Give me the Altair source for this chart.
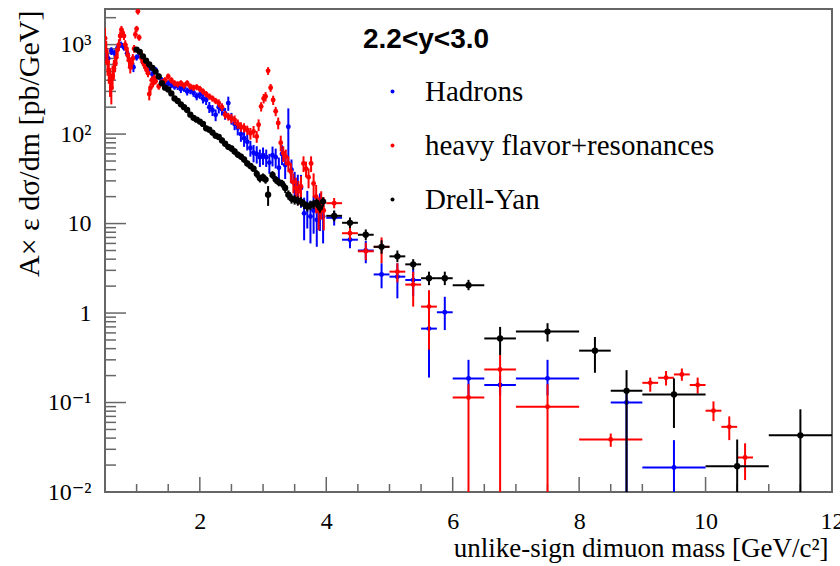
import altair as alt
import pandas as pd

SERIF = "Liberation Serif, DejaVu Serif, serif"
SANS = "Liberation Sans, Arial, sans-serif"

SERIES = ["Hadrons", "heavy flavor+resonances", "Drell-Yan"]
COLORS = ["#0000ff", "#ff0000", "#000000"]

# ---------------- Hadrons (blue) : fine bins ----------------
had_m = [0.50, 0.55, 0.60, 0.65, 0.70, 0.75, 0.80, 0.85, 0.90, 0.95,
         1.00, 1.05, 1.10, 1.15, 1.20, 1.25, 1.30, 1.35, 1.40, 1.45,
         1.50, 1.55, 1.60, 1.65, 1.70, 1.75, 1.80, 1.85, 1.90, 1.95,
         2.00, 2.05, 2.10, 2.15, 2.20, 2.25, 2.30, 2.35, 2.40, 2.45,
         2.50, 2.55, 2.60, 2.65, 2.70, 2.75, 2.80, 2.85, 2.90, 2.95,
         3.00, 3.05, 3.10, 3.15, 3.20, 3.25, 3.30, 3.35, 3.40, 3.45,
         3.50, 3.55, 3.60, 3.65, 3.70, 3.75, 3.80, 3.85, 3.90, 3.95]
had_v = [740, 700, 850, 800, 920, 1000, 930, 800, 650, 560,
         720, 760, 640, 560, 530, 470, 520, 440, 400, 380,
         370, 355, 340, 345, 320, 330, 300, 310, 290, 265,
         275, 250, 240, 200, 185, 164, 200, 190, 170, 222,
         150, 130, 118, 100, 90, 82, 70, 62, 60, 55,
         58, 55, 48, 58, 55, 42, 60, 45, 121, 40,
         28, 26, 25, 13, 16, 12, 14, 11, 15, 12]
had_err = [0.12, 0.12, 0.10, 0.10, 0.10, 0.08, 0.08, 0.10, 0.10, 0.12,
           0.08, 0.08, 0.08, 0.08, 0.08, 0.08, 0.08, 0.08, 0.08, 0.08,
           0.08, 0.08, 0.08, 0.10, 0.10, 0.10, 0.10, 0.10, 0.10, 0.10,
           0.10, 0.12, 0.12, 0.14, 0.14, 0.15, 0.15, 0.15, 0.15, 0.18,
           0.15, 0.15, 0.18, 0.18, 0.20, 0.20, 0.20, 0.22, 0.22, 0.22,
           0.22, 0.22, 0.25, 0.25, 0.25, 0.30, 0.25, 0.30, 0.60, 0.30,
           0.35, 0.35, 0.40, 0.50, 0.45, 0.50, 0.45, 0.50, 0.45, 0.50]
# Hadrons : wide bins
had_hm_m = [4.125, 4.375, 4.625, 4.875, 5.125, 5.375, 5.625, 5.875, 6.25, 6.75, 7.5, 8.75, 9.5]
had_hm_hw = [0.125, 0.125, 0.125, 0.125, 0.125, 0.125, 0.125, 0.125, 0.25, 0.25, 0.5, 0.25, 0.5]
had_hm_v = [11.6, 6.6, 5.0, 2.7, 2.55, 2.34, 0.67, 1.02, 0.186, 0.157, 0.186, 0.10, 0.0188]
had_hm_lo = [9.5, 5.3, 3.6, 1.89, 1.46, 1.55, 0.19, 0.645, 0.12, 0.12, 0.12, 0.005, 0.005]
had_hm_hi = [13.8, 8.0, 6.4, 3.6, 3.6, 3.1, 1.1, 1.52, 0.30, 0.20, 0.30, 0.14, 0.038]

# ---------------- heavy flavor + resonances (red) : fine bins ----------------
hf_m = [0.50, 0.52, 0.54, 0.56, 0.58, 0.60, 0.62, 0.64, 0.66, 0.68,
        0.70, 0.72, 0.74, 0.76, 0.78, 0.80, 0.82, 0.84, 0.86, 0.88,
        0.90, 0.92, 0.94, 0.96, 0.98, 1.00, 1.02, 1.04, 1.06, 1.08,
        1.10, 1.12, 1.14, 1.16, 1.18, 1.20, 1.22, 1.24, 1.26, 1.28,
        1.30, 1.35, 1.40, 1.45, 1.50, 1.55, 1.60, 1.65, 1.70, 1.75,
        1.80, 1.85, 1.90, 1.95, 2.00, 2.05, 2.10, 2.15, 2.20, 2.25,
        2.30, 2.35, 2.40, 2.45, 2.50, 2.55, 2.60, 2.65, 2.70, 2.75,
        2.80, 2.85, 2.90, 2.93, 2.97, 3.01, 3.04, 3.08, 3.12, 3.16,
        3.20, 3.24, 3.28, 3.32, 3.36, 3.40, 3.44, 3.48, 3.52, 3.56,
        3.60, 3.64, 3.68, 3.72, 3.76, 3.80, 3.84, 3.88, 3.92, 3.96]
hf_v = [1180, 850, 640, 520, 400, 330, 450, 540, 620, 720,
        880, 1000, 1250, 1470, 1350, 1250, 1000, 900, 760, 670,
        560, 620, 700, 900, 1300, 1500, 2350, 1200, 800, 700,
        640, 600, 560, 520, 480, 280, 330, 400, 370, 420,
        390, 340, 380, 400, 440, 400, 370, 360, 370, 350,
        370, 340, 330, 335, 320, 300, 280, 263, 250, 235,
        222, 200, 165, 157, 150, 144, 130, 121, 118, 111,
        102, 107, 94, 127, 203, 250, 263, 509, 330, 240,
        180, 133, 80, 61, 56, 47, 38, 29, 25, 23,
        26, 47, 41, 33, 47, 28, 20, 14, 17, 14]
hf_err = [0.30, 0.30, 0.30, 0.30, 0.35, 0.35, 0.30, 0.25, 0.20, 0.20,
          0.15, 0.15, 0.12, 0.10, 0.10, 0.10, 0.12, 0.12, 0.15, 0.15,
          0.15, 0.15, 0.12, 0.10, 0.10, 0.08, 0.08, 0.08, 0.10, 0.10,
          0.10, 0.10, 0.10, 0.10, 0.10, 0.15, 0.12, 0.10, 0.10, 0.10,
          0.08, 0.08, 0.08, 0.08, 0.08, 0.08, 0.08, 0.08, 0.08, 0.08,
          0.08, 0.08, 0.08, 0.08, 0.08, 0.08, 0.08, 0.08, 0.08, 0.08,
          0.10, 0.10, 0.10, 0.10, 0.12, 0.12, 0.12, 0.12, 0.12, 0.12,
          0.15, 0.15, 0.15, 0.15, 0.12, 0.12, 0.12, 0.10, 0.10, 0.12,
          0.12, 0.15, 0.20, 0.20, 0.20, 0.20, 0.25, 0.25, 0.30, 0.30,
          0.30, 0.20, 0.20, 0.25, 0.20, 0.30, 0.35, 0.40, 0.35, 0.40]
# heavy flavor : wide bins
hf_hm_m = [4.125, 4.375, 4.625, 4.875, 5.125, 5.375, 5.625, 6.25, 6.75, 7.5, 8.5,
           9.125, 9.375, 9.625, 9.875, 10.125, 10.375, 10.625]
hf_hm_hw = [0.125, 0.125, 0.125, 0.125, 0.125, 0.125, 0.125, 0.25, 0.25, 0.5, 0.5,
            0.125, 0.125, 0.125, 0.125, 0.125, 0.125, 0.125]
hf_hm_v = [16.9, 7.8, 4.9, 5.5, 2.9, 2.08, 1.18, 0.114, 0.234, 0.0896, 0.0386,
           0.166, 0.189, 0.206, 0.157, 0.081, 0.0535, 0.0243]
hf_hm_lo = [14.8, 6.6, 3.9, 3.6, 2.2, 1.18, 0.39, 0.005, 0.005, 0.005, 0.032,
            0.132, 0.155, 0.175, 0.126, 0.062, 0.038, 0.0136]
hf_hm_hi = [19.3, 9.2, 6.1, 7.0, 3.6, 2.9, 1.8, 0.16, 0.34, 0.16, 0.045,
            0.19, 0.225, 0.24, 0.19, 0.103, 0.07, 0.035]

# ---------------- Drell-Yan (black) : fine bins ----------------
dy_m = [1.00, 1.05, 1.10, 1.15, 1.20, 1.25, 1.30, 1.35, 1.40, 1.45,
        1.50, 1.55, 1.60, 1.65, 1.70, 1.75, 1.80, 1.85, 1.90, 1.95,
        2.00, 2.05, 2.10, 2.15, 2.20, 2.25, 2.30, 2.35, 2.40, 2.45,
        2.50, 2.55, 2.60, 2.65, 2.70, 2.75, 2.80, 2.85, 2.90, 2.95,
        3.00, 3.04, 3.08, 3.15, 3.20, 3.25, 3.30, 3.35, 3.40, 3.45,
        3.50, 3.55, 3.60, 3.65, 3.70, 3.75, 3.80, 3.85, 3.90, 3.95]
dy_v = [880, 830, 740, 660, 600, 550, 500, 440, 370, 330,
        315, 285, 250, 235, 215, 200, 186, 165, 152, 145,
        138, 130, 116, 112, 104, 96, 93, 85, 78, 72,
        69, 64, 59, 56, 52, 47, 44, 41, 36, 32,
        33, 31, 21, 35, 31, 29, 28, 25, 21, 19,
        18.5, 18, 17.6, 16.5, 15.5, 16, 16.5, 17, 15, 17.6]
dy_err = [0.05, 0.05, 0.05, 0.05, 0.05, 0.05, 0.05, 0.05, 0.05, 0.05,
          0.05, 0.05, 0.05, 0.05, 0.05, 0.05, 0.05, 0.05, 0.05, 0.05,
          0.07, 0.07, 0.07, 0.07, 0.07, 0.07, 0.07, 0.07, 0.07, 0.07,
          0.08, 0.08, 0.08, 0.08, 0.08, 0.08, 0.08, 0.08, 0.10, 0.10,
          0.10, 0.10, 0.25, 0.10, 0.10, 0.10, 0.10, 0.12, 0.12, 0.12,
          0.12, 0.12, 0.12, 0.12, 0.12, 0.12, 0.12, 0.12, 0.12, 0.12]
# Drell-Yan : wide bins
dy_hm_m = [4.125, 4.375, 4.625, 4.875, 5.125, 5.375, 5.625, 5.875, 6.25, 6.75, 7.5, 8.25,
           8.75, 9.5, 10.5, 11.5]
dy_hm_hw = [0.125, 0.125, 0.125, 0.125, 0.125, 0.125, 0.125, 0.125, 0.25, 0.25, 0.5, 0.25,
            0.25, 0.5, 0.5, 0.5]
dy_hm_v = [12.2, 10.2, 7.5, 5.5, 4.3, 3.5, 2.45, 2.45, 2.05, 0.52, 0.62, 0.38,
           0.135, 0.123, 0.0194, 0.043]
dy_hm_lo = [10.6, 8.9, 6.5, 4.6, 3.7, 3.05, 2.05, 2.05, 1.8, 0.34, 0.48, 0.215,
            0.005, 0.052, 0.005, 0.005]
dy_hm_hi = [14.0, 11.7, 8.6, 6.5, 5.0, 4.0, 2.9, 2.9, 2.35, 0.70, 0.77, 0.54,
            0.23, 0.186, 0.0386, 0.084]

# fine-bin half width
FINE_HW = [0.02, 0.01, 0.02]

# ---------------- axis ticks ----------------
x_major = [2, 4, 6, 8, 10, 12]
x_minor = [1, 1.5, 2.5, 3, 3.5, 4.5, 5, 5.5, 6.5, 7, 7.5, 8.5, 9, 9.5, 10.5, 11, 11.5]
y_major = [0.01, 0.1, 1, 10, 100, 1000]
y_minor = [0.02, 0.03, 0.04, 0.05, 0.06, 0.07, 0.08, 0.09,
           0.2, 0.3, 0.4, 0.5, 0.6, 0.7, 0.8, 0.9,
           2, 3, 4, 5, 6, 7, 8, 9,
           20, 30, 40, 50, 60, 70, 80, 90,
           200, 300, 400, 500, 600, 700, 800, 900,
           2000]


def build(name, m, v, err, hw, hm_m, hm_hw, hm_v, hm_lo, hm_hi):
    rows = []
    for mi, vi, ei in zip(m, v, err):
        rows.append(dict(series=name, m=mi, v=vi, lo=vi * (1 - ei), hi=vi * (1 + ei),
                         mlo=mi - hw, mhi=mi + hw))
    for mi, wi, vi, lo, hi in zip(hm_m, hm_hw, hm_v, hm_lo, hm_hi):
        rows.append(dict(series=name, m=mi, v=vi, lo=lo, hi=hi, mlo=mi - wi, mhi=mi + wi))
    return pd.DataFrame(rows)


dfs = [
    build(SERIES[0], had_m, had_v, had_err, FINE_HW[0], had_hm_m, had_hm_hw, had_hm_v, had_hm_lo, had_hm_hi),
    build(SERIES[1], hf_m, hf_v, hf_err, FINE_HW[1], hf_hm_m, hf_hm_hw, hf_hm_v, hf_hm_lo, hf_hm_hi),
    build(SERIES[2], dy_m, dy_v, dy_err, FINE_HW[2], dy_hm_m, dy_hm_hw, dy_hm_v, dy_hm_lo, dy_hm_hi),
]

W, H = 727, 483

xs = alt.Scale(domain=[0.5, 12], nice=False, zero=False)
ys = alt.Scale(type="log", domain=[0.01, 2500], nice=False)

x_axis = alt.Axis(
    values=x_major, format="d", ticks=False, tickSize=0, domain=False, grid=False,
    labelFont=SERIF, labelFontSize=24, labelColor="black", labelPadding=17, labelFlush=False,
    title="unlike-sign dimuon mass [GeV/c²]", titleFont=SERIF, titleFontSize=27,
    titleFontWeight="normal", titleColor="black", titleAlign="right", titleAnchor="end",
    titleX=723, titleY=64, titleBaseline="alphabetic",
)
y_axis = alt.Axis(
    values=y_major, ticks=False, tickSize=0, domain=False, grid=False,
    labelExpr=("datum.value >= 999 ? '10³' : datum.value >= 99 ? '10²' : datum.value >= 9 ? '10' : "
               "datum.value >= 0.9 ? '1' : datum.value >= 0.09 ? '10⁻¹' : '10⁻²'"),
    labelFont=SERIF, labelFontSize=24, labelColor="black", labelPadding=14, labelFlush=False,
    title="A× ε dσ/dm [pb/GeV]", titleFont=SERIF, titleFontSize=30, titleFontWeight="normal",
    titleColor="black", titleAngle=270, titleAlign="right", titleX=-67, titleY=1,
    titleBaseline="alphabetic",
)

color_scale = alt.Scale(domain=SERIES, range=COLORS)
legend = alt.Legend(
    orient="none", legendX=258, legendY=17, title="2.2<y<3.0",
    titleFont=SANS, titleFontSize=28, titleFontWeight="bold", titleColor="black",
    titlePadding=23, labelFont=SERIF, labelFontSize=29, labelColor="black", labelLimit=0,
    symbolType="circle", symbolSize=16, symbolStrokeWidth=0, symbolOffset=15,
    labelOffset=18, rowPadding=24, padding=0,
)

POINT_SIZE = [24, 24, 40]
layers = []
for i, df in enumerate(dfs):
    col = COLORS[i]
    base = alt.Chart(df)
    vbar = base.mark_rule(color=col, strokeWidth=2, clip=True).encode(
        x=alt.X("m:Q", scale=xs, axis=x_axis),
        y=alt.Y("lo:Q", scale=ys, axis=y_axis),
        y2="hi:Q",
    )
    hbar = base.mark_rule(color=col, strokeWidth=2, clip=True).encode(
        x=alt.X("mlo:Q", scale=xs, axis=x_axis),
        x2="mhi:Q",
        y=alt.Y("v:Q", scale=ys, axis=y_axis),
    )
    pts = base.mark_circle(size=POINT_SIZE[i], opacity=1, clip=True).encode(
        x=alt.X("m:Q", scale=xs, axis=x_axis),
        y=alt.Y("v:Q", scale=ys, axis=y_axis),
        color=alt.Color("series:N", scale=color_scale, legend=legend),
    )
    layers += [vbar, hbar, pts]

TICK_COLOR = "#666666"
ymaj = alt.Chart(pd.DataFrame({"t": y_major})).mark_rule(color=TICK_COLOR, strokeWidth=1.5).encode(
    y=alt.Y("t:Q", scale=ys, axis=y_axis), x=alt.value(0), x2=alt.value(21))
ymin = alt.Chart(pd.DataFrame({"t": y_minor})).mark_rule(color=TICK_COLOR, strokeWidth=1.5).encode(
    y=alt.Y("t:Q", scale=ys, axis=y_axis), x=alt.value(0), x2=alt.value(11))
xmaj = alt.Chart(pd.DataFrame({"t": x_major})).mark_rule(color=TICK_COLOR, strokeWidth=1.5).encode(
    x=alt.X("t:Q", scale=xs, axis=x_axis), y=alt.value(H), y2=alt.value(H - 15))
xmin = alt.Chart(pd.DataFrame({"t": x_minor})).mark_rule(color=TICK_COLOR, strokeWidth=1.5).encode(
    x=alt.X("t:Q", scale=xs, axis=x_axis), y=alt.value(H), y2=alt.value(H - 8))

chart = alt.layer(ymaj, ymin, xmaj, xmin, *layers).properties(
    width=W, height=H,
    padding={"left": 105, "top": 9, "right": 8, "bottom": 74},
    autosize=alt.AutoSizeParams(type="none"),
    background="white",
).configure_view(stroke="#666666", strokeWidth=2)

chart.save("out.html", embed_options={"renderer": "svg", "actions": False})
